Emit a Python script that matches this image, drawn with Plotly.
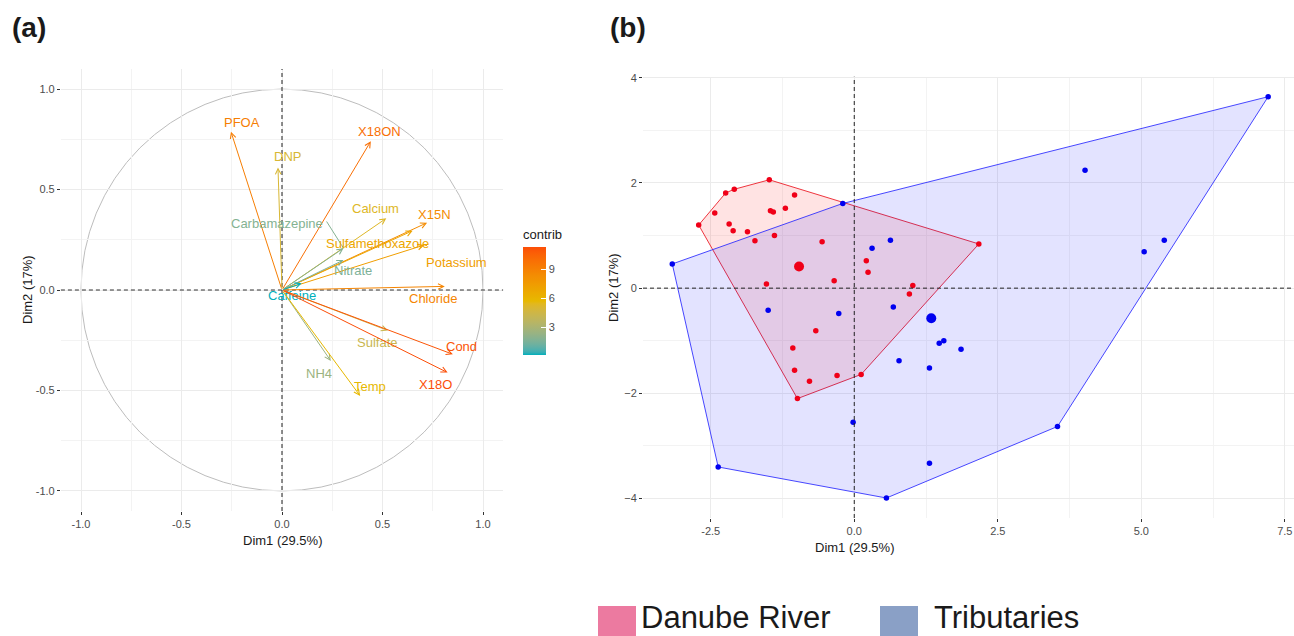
import plotly.graph_objects as go
from plotly.colors import sample_colorscale

# ---------------- Panel (a): variables ----------------
var_names = ["PFOA", "X18ON", "DNP", "Calcium", "X15N", "Sulfamethoxazole", "Potassium",
             "Carbamazepine", "Nitrate", "Chloride", "Caffeine", "Sulfate", "Cond", "X18O",
             "NH4", "Temp"]
var_dim1 = [-0.254, 0.442, -0.020, 0.519, 0.722, 0.650, 0.708, 0.306, 0.306, 0.810, 0.098,
            0.527, 0.850, 0.824, 0.243, 0.389]
var_dim2 = [0.788, 0.741, 0.610, 0.357, 0.335, 0.295, 0.224, 0.208, 0.149, 0.018, 0.033,
            -0.202, -0.320, -0.411, -0.353, -0.527]
var_contrib = [9.2, 10.0, 5.0, 5.3, 8.5, 6.9, 7.4, 1.8, 1.6, 8.8, 0.14, 4.3, 11.1, 11.4, 2.5, 5.8]

# label anchor positions (repelled labels), data units of panel (a)
label_pos = {
    "PFOA": (-0.200, 0.834), "X18ON": (0.483, 0.788), "DNP": (0.026, 0.663),
    "Calcium": (0.463, 0.406), "X15N": (0.761, 0.378), "Sulfamethoxazole": (0.474, 0.232),
    "Potassium": (0.866, 0.136), "Carbamazepine": (-0.026, 0.332), "Nitrate": (0.355, 0.096),
    "Chloride": (0.753, -0.041), "Caffeine": (0.048, -0.025), "Sulfate": (0.471, -0.262),
    "Cond": (0.894, -0.279), "X18O": (0.766, -0.468), "NH4": (0.186, -0.418),
    "Temp": (0.438, -0.481),
}
# repel segments (label edge -> arrow tip)
repel_seg = {"Carbamazepine": (0.222, 0.341), "Potassium": (0.721, 0.221)}

# ---------------- Panel (b): individuals ----------------
danube_x = [-1.48, -2.24, -2.09, -1.04, -2.43, -2.71, -1.46, -1.41, -1.20, -2.18, -2.11, -1.86,
            -1.73, -1.39, -0.56, 2.17, 0.21, 0.24, -1.53, -0.35, 1.02, 0.96, -0.67, -1.07,
            -1.04, -0.78, -0.30, 0.12, -0.99]
danube_y = [2.06, 1.81, 1.88, 1.77, 1.43, 1.20, 1.47, 1.45, 1.52, 1.22, 1.09, 1.07, 0.90, 1.00,
            0.88, 0.84, 0.52, 0.30, 0.08, 0.14, 0.05, -0.11, -0.81, -1.14, -1.56, -1.77, -1.66,
            -1.64, -2.10]
trib_x = [-3.17, -0.20, 0.63, 0.31, -1.50, -0.27, 0.68, 1.48, 1.56, 1.86, 0.78, 1.31, -0.02,
          1.31, 0.56, 3.54, 7.21, 4.02, 5.05, 5.40, -2.37]
trib_y = [0.46, 1.61, 0.91, 0.76, -0.42, -0.48, -0.36, -1.05, -1.00, -1.16, -1.38, -1.52, -2.55,
          -3.33, -3.99, -2.63, 3.64, 2.24, 0.69, 0.91, -3.40]

group_names = ["Danube River", "Tributaries"]

GRAD_HEX = ["#00AFBB", "#E7B800", "#FC4E07"]


# ---- Lab-space gradient (as ggplot's gradientn) ----
def _hex2rgb(h):
    h = h.lstrip("#")
    return [int(h[i:i + 2], 16) / 255 for i in (0, 2, 4)]


def _lin(c):
    return c / 12.92 if c <= 0.04045 else ((c + 0.055) / 1.055) ** 2.4


def _delin(c):
    c = max(0.0, min(1.0, c))
    return 12.92 * c if c <= 0.0031308 else 1.055 * c ** (1 / 2.4) - 0.055


WP = (0.95047, 1.0, 1.08883)


def _rgb2lab(rgb):
    r, g, b = [_lin(c) for c in rgb]
    X = 0.4124 * r + 0.3576 * g + 0.1805 * b
    Y = 0.2126 * r + 0.7152 * g + 0.0722 * b
    Z = 0.0193 * r + 0.1192 * g + 0.9505 * b

    def f(t):
        return t ** (1 / 3) if t > 0.008856 else 7.787 * t + 16 / 116
    fx, fy, fz = f(X / WP[0]), f(Y / WP[1]), f(Z / WP[2])
    return (116 * fy - 16, 500 * (fx - fy), 200 * (fy - fz))


def _lab2rgb(lab):
    L, a, b = lab
    fy = (L + 16) / 116
    fx = fy + a / 500
    fz = fy - b / 200

    def finv(t):
        return t ** 3 if t ** 3 > 0.008856 else (t - 16 / 116) / 7.787
    X, Y, Z = finv(fx) * WP[0], finv(fy) * WP[1], finv(fz) * WP[2]
    r = 3.2406 * X - 1.5372 * Y - 0.4986 * Z
    g = -0.9689 * X + 1.8758 * Y + 0.0415 * Z
    bb = 0.0557 * X - 0.2040 * Y + 1.0570 * Z
    return "rgb(%d,%d,%d)" % tuple(round(_delin(c) * 255) for c in (r, g, bb))


_labs = [_rgb2lab(_hex2rgb(h)) for h in GRAD_HEX]
GRAD = []
NSTOP = 40
for i in range(NSTOP + 1):
    t = i / NSTOP
    seg = min(int(t * 2), 1)
    u = t * 2 - seg
    a, b = _labs[seg], _labs[seg + 1]
    GRAD.append([t, _lab2rgb(tuple(a[k] + (b[k] - a[k]) * u for k in range(3)))])

cmin, cmax = min(var_contrib), max(var_contrib)


def col_for(v):
    return sample_colorscale(GRAD, [(v - cmin) / (cmax - cmin)])[0]


def convex_hull(xs, ys):
    pts = sorted(set(zip(xs, ys)))

    def cross(o, a, b):
        return (a[0] - o[0]) * (b[1] - o[1]) - (a[1] - o[1]) * (b[0] - o[0])

    lower = []
    for p in pts:
        while len(lower) >= 2 and cross(lower[-2], lower[-1], p) <= 0:
            lower.pop()
        lower.append(p)
    upper = []
    for p in reversed(pts):
        while len(upper) >= 2 and cross(upper[-2], upper[-1], p) <= 0:
            upper.pop()
        upper.append(p)
    h = lower[:-1] + upper[:-1]
    h.append(h[0])
    return [p[0] for p in h], [p[1] for p in h]


FONT = "Liberation Sans, Arial, sans-serif"
W, H = 1294, 636

fig = go.Figure()

# colorbar carrier for panel (a)
fig.add_trace(go.Scatter(
    x=var_dim1, y=var_dim2, mode="markers", xaxis="x", yaxis="y",
    marker=dict(size=1, opacity=0, color=var_contrib, colorscale=GRAD, cmin=cmin, cmax=cmax,
                showscale=True,
                colorbar=dict(
                    title=dict(text="contrib", font=dict(size=13, color="#1a1a1a"), side="top"),
                    thickness=23, len=128, lenmode="pixels",
                    x=523 / W, xanchor="left", y=1 - 354.5 / H, yanchor="bottom",
                    xpad=0, ypad=0, outlinewidth=0,
                    tickvals=[3, 6, 9], ticks="inside", ticklen=5, tickcolor="white",
                    tickfont=dict(size=11, color="#4D4D4D"),
                )),
    showlegend=False, hoverinfo="skip"))

# panel (b) hulls
for gx, gy, lc, fc in [(danube_x, danube_y, "rgba(235,20,30,0.85)", "rgba(255,0,0,0.11)"),
                       (trib_x, trib_y, "rgba(40,40,255,0.85)", "rgba(0,0,255,0.11)")]:
    hx, hy = convex_hull(gx, gy)
    fig.add_trace(go.Scatter(x=hx, y=hy, xaxis="x2", yaxis="y2", mode="lines",
                             fill="toself", fillcolor=fc, line=dict(color=lc, width=1),
                             showlegend=False, hoverinfo="skip"))

# panel (b) points and centroids
for gx, gy, c in [(danube_x, danube_y, "#F00018"), (trib_x, trib_y, "#0000F0")]:
    fig.add_trace(go.Scatter(x=gx, y=gy, xaxis="x2", yaxis="y2", mode="markers",
                             marker=dict(size=5.5, color=c), showlegend=False))
    fig.add_trace(go.Scatter(x=[sum(gx) / len(gx)], y=[sum(gy) / len(gy)], xaxis="x2", yaxis="y2",
                             mode="markers", marker=dict(size=10, color=c), showlegend=False))

annotations = []
shapes = []

# circle + dashed reference lines in (a)
shapes.append(dict(type="circle", xref="x", yref="y", x0=-1, y0=-1, x1=1, y1=1,
                   line=dict(color="#BDBDBD", width=1), layer="below"))
shapes.append(dict(type="line", xref="x", yref="y domain", x0=0, x1=0, y0=0, y1=1,
                   line=dict(color="#333333", width=1.1, dash="4px,3px"), layer="above"))
shapes.append(dict(type="line", xref="x domain", yref="y", x0=0, x1=1, y0=0, y1=0,
                   line=dict(color="#333333", width=1.1, dash="4px,3px"), layer="above"))
# dashed reference lines in (b)
shapes.append(dict(type="line", xref="x2", yref="y2 domain", x0=0, x1=0, y0=0, y1=1,
                   line=dict(color="#222222", width=1, dash="4px,3px")))
shapes.append(dict(type="line", xref="x2 domain", yref="y2", x0=0, x1=1, y0=0, y1=0,
                   line=dict(color="#222222", width=1, dash="4px,3px")))

# arrows of panel (a)
for n, x, y, c in zip(var_names, var_dim1, var_dim2, var_contrib):
    col = col_for(c)
    annotations.append(dict(x=x, y=y, ax=0, ay=0, xref="x", yref="y", axref="x", ayref="y",
                            text="", showarrow=True, arrowhead=5, arrowsize=1.1, arrowwidth=1,
                            arrowcolor=col, standoff=0, startstandoff=0))
    lx, ly = label_pos[n]
    annotations.append(dict(x=lx, y=ly, xref="x", yref="y", text=n, showarrow=False,
                            font=dict(size=13, color=col, family=FONT),
                            xanchor="center", yanchor="middle"))
    if n in repel_seg:
        sx, sy = repel_seg[n]
        shapes.append(dict(type="line", xref="x", yref="y", x0=sx, y0=sy, x1=x, y1=y,
                           line=dict(color=col, width=1), layer="above"))

# bottom legend (group colours)
legend_cols = ["#EC7AA0", "#8AA0C6"]
legend_x = [598, 880]
for name, c, lx in zip(group_names, legend_cols, legend_x):
    shapes.append(dict(type="rect", xref="paper", yref="paper",
                       x0=lx / W, x1=(lx + 38) / W, y0=0, y1=1 - 606 / H,
                       fillcolor=c, line=dict(width=0)))
annotations.append(dict(x=640 / W, y=0, xref="paper", yref="paper", text=group_names[0],
                        showarrow=False, xanchor="left", yanchor="bottom", borderpad=0,
                        font=dict(size=31, color="#1a1a1a", family=FONT)))
annotations.append(dict(x=933 / W, y=0, xref="paper", yref="paper", text=group_names[1],
                        showarrow=False, xanchor="left", yanchor="bottom", borderpad=0,
                        font=dict(size=31, color="#1a1a1a", family=FONT)))

# panel titles
annotations.append(dict(x=10 / W, y=1 - 27 / H, xref="paper", yref="paper", text="<b>(a)</b>",
                        showarrow=False, xanchor="left", yanchor="middle",
                        font=dict(size=28, color="#1a1a1a", family=FONT)))
annotations.append(dict(x=608 / W, y=1 - 27 / H, xref="paper", yref="paper", text="<b>(b)</b>",
                        showarrow=False, xanchor="left", yanchor="middle",
                        font=dict(size=28, color="#1a1a1a", family=FONT)))

# axis titles
annotations.append(dict(x=282 / W, y=1 - 540 / H, xref="paper", yref="paper", text="Dim1 (29.5%)",
                        showarrow=False, xanchor="center", yanchor="middle",
                        font=dict(size=13, color="#1a1a1a", family=FONT)))
annotations.append(dict(x=27 / W, y=1 - 290 / H, xref="paper", yref="paper", text="Dim2 (17%)",
                        showarrow=False, xanchor="center", yanchor="middle", textangle=-90,
                        font=dict(size=13, color="#1a1a1a", family=FONT)))
annotations.append(dict(x=854 / W, y=1 - 547 / H, xref="paper", yref="paper", text="Dim1 (29.5%)",
                        showarrow=False, xanchor="center", yanchor="middle",
                        font=dict(size=13, color="#1a1a1a", family=FONT)))
annotations.append(dict(x=613 / W, y=1 - 288 / H, xref="paper", yref="paper", text="Dim2 (17%)",
                        showarrow=False, xanchor="center", yanchor="middle", textangle=-90,
                        font=dict(size=13, color="#1a1a1a", family=FONT)))

axis_common = dict(showline=False, zeroline=False, gridcolor="#EBEBEB", gridwidth=1.2,
                   ticks="outside", ticklen=3, tickcolor="#333333", tickwidth=1,
                   automargin=False,
                   tickfont=dict(size=11, color="#4D4D4D", family=FONT))

fig.update_layout(
    width=W, height=H, margin=dict(l=0, r=0, t=0, b=0, autoexpand=False),
    paper_bgcolor="white", plot_bgcolor="white",
    font=dict(family=FONT),
    xaxis=dict(domain=[60.9 / W, 503.1 / W], range=[-1.1, 1.1], tickvals=[-1, -0.5, 0, 0.5, 1],
               ticktext=["-1.0", "-0.5", "0.0", "0.5", "1.0"],
               minor=dict(tickvals=[-0.75, -0.25, 0.25, 0.75], showgrid=True,
                          gridcolor="#F3F3F3", gridwidth=1, ticks=""),
               anchor="y", **axis_common),
    yaxis=dict(domain=[1 - 511 / H, 1 - 69 / H], range=[-1.1, 1.1], tickvals=[-1, -0.5, 0, 0.5, 1],
               ticktext=["-1.0", "-0.5", "0.0", "0.5", "1.0"],
               minor=dict(tickvals=[-0.75, -0.25, 0.25, 0.75], showgrid=True,
                          gridcolor="#F3F3F3", gridwidth=1, ticks=""),
               anchor="x", **axis_common),
    xaxis2=dict(domain=[643 / W, 1.0], range=[-3.68, 7.66], tickvals=[-2.5, 0, 2.5, 5, 7.5],
                ticktext=["-2.5", "0.0", "2.5", "5.0", "7.5"],
                minor=dict(tickvals=[-1.25, 1.25, 3.75, 6.25], showgrid=True,
                           gridcolor="#F3F3F3", gridwidth=1, ticks=""),
                anchor="y2", **axis_common),
    yaxis2=dict(domain=[1 - 518 / H, 1 - 76.7 / H], range=[-4.37, 4.02], tickvals=[-4, -2, 0, 2, 4],
                minor=dict(tickvals=[-3, -1, 1, 3], showgrid=True,
                           gridcolor="#F3F3F3", gridwidth=1, ticks=""),
                anchor="x2", **axis_common),
    annotations=annotations, shapes=shapes, showlegend=False,
)

fig.write_html("out.html", config={"displayModeBar": False},
               post_script="document.body.style.margin='0px';")
